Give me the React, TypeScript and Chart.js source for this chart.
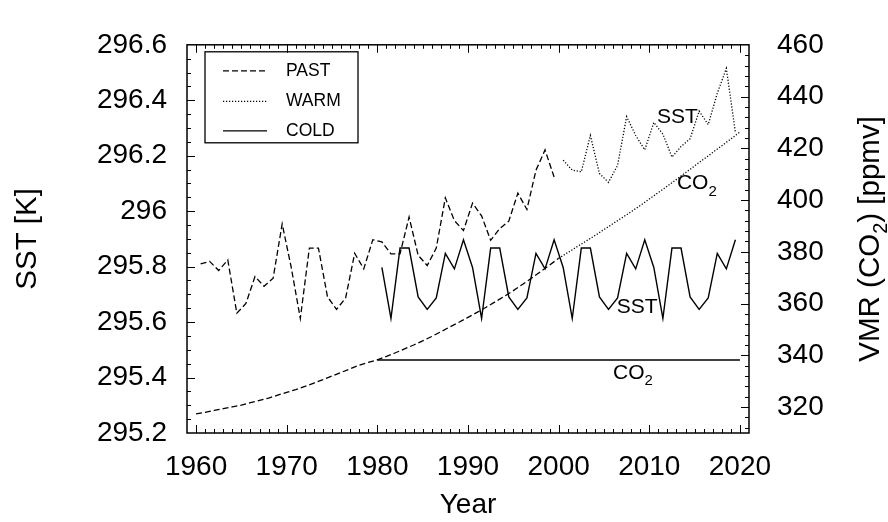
import React, { useEffect, useRef } from "react";
import { Chart, registerables } from "chart.js";

Chart.register(...registerables);

const FONT = "'Liberation Sans', Arial, Helvetica, sans-serif";

// ---- tick labels ----
const xTickLabels = [1960, 1970, 1980, 1990, 2000, 2010, 2020];
const sstTickLabels = [295.2, 295.4, 295.6, 295.8, 296, 296.2, 296.4, 296.6];
const co2TickLabels = [320, 340, 360, 380, 400, 420, 440, 460];

// ---- legend ----
const legendLabels = ["PAST", "WARM", "COLD"];

// ---- categories (years) ----
const range = (start: number, count: number) =>
  Array.from({ length: count }, (_, i) => start + i);

const sstPastYears = range(1960.5, 40);
const sstWarmYears = range(2000.5, 20);
const sstColdYears = range(1980.5, 40);
const co2PastYears = range(1960, 41);
const co2WarmYears = range(2000, 21);
const co2ColdYears = [1980, 2020];

// ---- series values ----
const sstPast = [
  295.81, 295.819, 295.786, 295.824, 295.632, 295.667, 295.764, 295.729, 295.758, 295.954,
  295.797, 295.613, 295.867, 295.867, 295.691, 295.646, 295.687, 295.848, 295.792, 295.897,
  295.889, 295.846, 295.846, 295.979, 295.841, 295.804, 295.867, 296.048, 295.966, 295.93,
  296.029, 295.983, 295.895, 295.937, 295.964, 296.065, 296.006, 296.148, 296.221, 296.123,
];

const sstWarm = [
  296.184, 296.148, 296.142, 296.273, 296.136, 296.104, 296.165, 296.341, 296.273, 296.221,
  296.32, 296.278, 296.195, 296.233, 296.261, 296.361, 296.312, 296.425, 296.515, 296.284,
];

const sstCold = [
  295.797, 295.613, 295.867, 295.867, 295.691, 295.646, 295.687, 295.848, 295.792, 295.897,
  295.797, 295.613, 295.867, 295.867, 295.691, 295.646, 295.687, 295.848, 295.792, 295.897,
  295.797, 295.613, 295.867, 295.867, 295.691, 295.646, 295.687, 295.848, 295.792, 295.897,
  295.797, 295.613, 295.867, 295.867, 295.691, 295.646, 295.687, 295.848, 295.792, 295.897,
];

const co2Past = [
  317.4, 318.0, 318.7, 319.4, 320.1, 320.8, 321.7, 322.6, 323.5, 324.6,
  325.7, 326.8, 328.0, 329.3, 330.6, 332.0, 333.4, 334.8, 336.2, 337.3,
  338.3, 339.6, 341.0, 342.5, 344.0, 345.6, 347.3, 349.1, 351.0, 352.8,
  354.7, 356.6, 358.6, 360.7, 362.8, 365.0, 367.4, 369.8, 372.3, 374.9,
  377.5,
];

const co2Warm = [
  377.5, 379.7, 381.9, 384.1, 386.3, 388.6, 390.9, 393.2, 395.5, 397.9,
  400.4, 402.9, 405.4, 408.0, 410.6, 413.2, 415.8, 418.4, 421.0, 423.6,
  426.3,
];

const co2Cold = [338.2, 338.2];

// ---- text annotations (data coordinates) ----
const annotations = [
  { text: "SST", sub: "", x: 2010.85, y: 296.34, axis: "y" },
  { text: "CO", sub: "2", x: 2013.05, y: 406.4, axis: "y2" },
  { text: "SST", sub: "", x: 2006.4, y: 295.653, axis: "y" },
  { text: "CO", sub: "2", x: 2006.0, y: 333.2, axis: "y2" },
];

const DASH_PAST = [6, 3];
const DASH_WARM = [1.2, 1.8];
const DASH_COLD: number[] = [];

const toPoints = (xs: number[], ys: number[]) => xs.map((x, i) => ({ x, y: ys[i] }));

const decorPlugin = {
  id: "decor",
  afterDraw(chart: any) {
    const { ctx, chartArea: a, scales } = chart;
    const sx = scales.x;
    const sy = scales.y;
    const sy2 = scales.y2;
    ctx.save();
    ctx.strokeStyle = "#000";
    ctx.fillStyle = "#000";
    ctx.setLineDash([]);
    ctx.lineWidth = 1;

    // inward ticks
    ctx.beginPath();
    for (let yr = 1960; yr <= 2020; yr++) {
      const px = Math.round(sx.getPixelForValue(yr)) + 0.5;
      const len = yr % 10 === 0 ? 8 : 4;
      ctx.moveTo(px, a.bottom);
      ctx.lineTo(px, a.bottom - len);
      ctx.moveTo(px, a.top);
      ctx.lineTo(px, a.top + len);
    }
    for (let i = 1; i < 28; i++) {
      const v = 295.2 + i * 0.05;
      const py = Math.round(sy.getPixelForValue(v)) + 0.5;
      const len = i % 4 === 0 ? 8 : 4;
      ctx.moveTo(a.left, py);
      ctx.lineTo(a.left + len, py);
    }
    for (let v = 312; v < 460; v += 4) {
      const py = Math.round(sy2.getPixelForValue(v)) + 0.5;
      const len = v % 20 === 0 ? 8 : 4;
      ctx.moveTo(a.right, py);
      ctx.lineTo(a.right - len, py);
    }
    ctx.stroke();

    // frame
    ctx.lineWidth = 1.5;
    ctx.strokeRect(a.left, a.top, a.right - a.left, a.bottom - a.top);

    // legend
    const bx = a.left + 18;
    const by = a.top + 7;
    ctx.lineWidth = 1.3;
    ctx.strokeRect(bx, by, 153, 91);
    const dashes = [DASH_PAST, DASH_WARM, DASH_COLD];
    const rows = [26, 56.5, 86];
    ctx.font = `17.5px ${FONT}`;
    ctx.textBaseline = "middle";
    ctx.textAlign = "left";
    legendLabels.forEach((lab, i) => {
      const yy = a.top + rows[i];
      ctx.setLineDash(dashes[i]);
      ctx.lineWidth = 1.3;
      ctx.beginPath();
      ctx.moveTo(bx + 18, yy);
      ctx.lineTo(bx + 62, yy);
      ctx.stroke();
      ctx.setLineDash([]);
      ctx.fillText(lab, bx + 81, yy);
    });

    // annotations
    annotations.forEach((an) => {
      const px = sx.getPixelForValue(an.x);
      const py = scales[an.axis].getPixelForValue(an.y);
      ctx.font = `21px ${FONT}`;
      ctx.textBaseline = "middle";
      ctx.fillText(an.text, px, py);
      if (an.sub) {
        const w = ctx.measureText(an.text).width;
        ctx.font = `15px ${FONT}`;
        ctx.fillText(an.sub, px + w, py + 8);
      }
    });

    // right axis title (reads bottom to top)
    const cx = 871;
    const cy = (a.top + a.bottom) / 2;
    ctx.translate(cx, cy);
    ctx.rotate(-Math.PI / 2);
    ctx.textBaseline = "middle";
    const big = `29.5px ${FONT}`;
    const small = `20px ${FONT}`;
    ctx.font = big;
    const p1 = "VMR (CO";
    const p3 = ") [ppmv]";
    const w1 = ctx.measureText(p1).width;
    const w3 = ctx.measureText(p3).width;
    ctx.font = small;
    const w2 = ctx.measureText("2").width;
    const total = w1 + w2 + w3;
    let xx = -total / 2;
    ctx.font = big;
    ctx.fillText(p1, xx, 0);
    xx += w1;
    ctx.font = small;
    ctx.fillText("2", xx, 10);
    xx += w2;
    ctx.font = big;
    ctx.fillText(p3, xx, 0);
    ctx.restore();
  },
};

export default function App() {
  const ref = useRef<HTMLCanvasElement | null>(null);

  useEffect(() => {
    if (!ref.current) return;
    const tickFont = { family: FONT, size: 28 };
    const lineBase = { pointRadius: 0, borderColor: "#000", tension: 0, fill: false };
    const chart = new Chart(ref.current, {
      type: "line",
      data: {
        datasets: [
          { ...lineBase, label: "PAST SST", data: toPoints(sstPastYears, sstPast), borderDash: DASH_PAST, borderWidth: 1.3, yAxisID: "y" },
          { ...lineBase, label: "WARM SST", data: toPoints(sstWarmYears, sstWarm), borderDash: DASH_WARM, borderWidth: 1.3, yAxisID: "y" },
          { ...lineBase, label: "COLD SST", data: toPoints(sstColdYears, sstCold), borderDash: DASH_COLD, borderWidth: 1.4, yAxisID: "y" },
          { ...lineBase, label: "PAST CO2", data: toPoints(co2PastYears, co2Past), borderDash: DASH_PAST, borderWidth: 1.3, yAxisID: "y2" },
          { ...lineBase, label: "WARM CO2", data: toPoints(co2WarmYears, co2Warm), borderDash: DASH_WARM, borderWidth: 1.3, yAxisID: "y2" },
          { ...lineBase, label: "COLD CO2", data: toPoints(co2ColdYears, co2Cold), borderDash: DASH_COLD, borderWidth: 1.4, yAxisID: "y2" },
        ],
      },
      options: {
        responsive: false,
        animation: false,
        devicePixelRatio: 1,
        layout: { padding: { top: 21, left: 0, right: 0, bottom: 0 } },
        plugins: { legend: { display: false }, tooltip: { enabled: false } },
        scales: {
          x: {
            type: "linear",
            min: 1959,
            max: 2021,
            afterBuildTicks: (s: any) => { s.ticks = xTickLabels.map((v) => ({ value: v })); },
            afterFit: (s: any) => { s.height = 89; },
            grid: { display: false, drawTicks: false },
            border: { display: false },
            ticks: { color: "#000", font: tickFont, padding: 17, maxRotation: 0, autoSkip: false, callback: (v: any) => String(v) },
            title: { display: true, text: "Year", color: "#000", font: { family: FONT, size: 28 }, padding: { top: 0, bottom: 0 } },
          },
          y: {
            type: "linear",
            position: "left",
            min: 295.2,
            max: 296.6,
            afterBuildTicks: (s: any) => { s.ticks = sstTickLabels.map((v) => ({ value: v })); },
            afterFit: (s: any) => { s.width = 187; },
            grid: { display: false, drawTicks: false },
            border: { display: false },
            ticks: { color: "#000", font: tickFont, padding: 20, autoSkip: false, callback: (v: any) => String(Math.round(Number(v) * 10) / 10) },
            title: { display: true, text: "SST [K]", color: "#000", font: { family: FONT, size: 29.5 }, padding: { top: 10.5, bottom: 0 } },
          },
          y2: {
            type: "linear",
            position: "right",
            min: 310,
            max: 460,
            afterBuildTicks: (s: any) => { s.ticks = co2TickLabels.map((v) => ({ value: v })); },
            afterFit: (s: any) => { s.width = 139; },
            grid: { display: false, drawTicks: false },
            border: { display: false },
            ticks: { color: "#000", font: tickFont, padding: 28, autoSkip: false, callback: (v: any) => String(v) },
          },
        },
      },
      plugins: [decorPlugin],
    } as any);
    return () => chart.destroy();
  }, []);

  return (
    <div style={{ position: "absolute", left: 0, top: 0, width: 888, height: 522, background: "#fff" }}>
      <canvas ref={ref} width={888} height={522} style={{ display: "block" }} />
    </div>
  );
}
